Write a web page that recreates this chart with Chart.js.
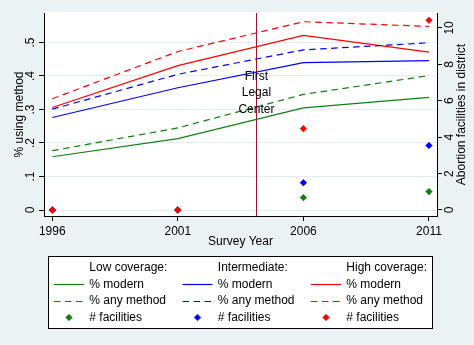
<!DOCTYPE html>
<html><head><meta charset="utf-8">
<script src="https://cdn.jsdelivr.net/npm/chart.js@4.4.1/dist/chart.umd.min.js"></script>
<style>html,body{margin:0;padding:0;background:#eaf2f3;}#wrap{position:relative;width:474px;height:345px;}</style>
</head><body><div id="wrap"><canvas id="c" width="474" height="345"></canvas></div>
<script>
// ---- data ----
const years = [1996, 2001, 2006, 2011];
const yearTicks = [1996, 2001, 2006, 2011];
const pctTicks = [0, 0.1, 0.2, 0.3, 0.4, 0.5];
const facilityTicks = [0, 2, 4, 6, 8, 10];
const groupNames = ['Low coverage:', 'Intermediate:', 'High coverage:'];
const itemNames = ['% modern', '% any method', '# facilities'];

const lowModern  = [0.159, 0.213, 0.305, 0.336];
const lowAny     = [0.177, 0.245, 0.345, 0.401];
const midModern  = [0.276, 0.365, 0.440, 0.446];
const midAny     = [0.301, 0.405, 0.478, 0.499];
const highModern = [0.306, 0.431, 0.521, 0.471];
const highAny    = [0.332, 0.473, 0.562, 0.548];
const lowFacilities  = [0, 0, 0.68, 1.01];
const midFacilities  = [0, 0, 1.50, 3.54];
const highFacilities = [0, 0, 4.47, 10.42];

const firstLegalCenterYear = 2004.13;
const annotationLines = ['First', 'Legal', 'Center'];

// ---- styling ----
const FONT = "'Liberation Sans', Arial, sans-serif";
Chart.defaults.font.family = FONT;
Chart.defaults.font.size = 12;
Chart.defaults.color = '#000';
const groupColors = ['#108010', '#0000ff', '#ff0000'];
const DASH = [6.5, 4.5];

const pts = arr => arr.map((v, i) => ({x: years[i], y: v}));
const modern = [lowModern, midModern, highModern];
const anyM = [lowAny, midAny, highAny];
const fac = [lowFacilities, midFacilities, highFacilities];

const datasets = [];
for (let g = 0; g < 3; g++) {
  datasets.push({label: groupNames[g] + ' ' + itemNames[0], group: g, item: 0, data: pts(modern[g]), yAxisID: 'y',
    borderColor: groupColors[g], borderWidth: 1.2, pointRadius: 0, fill: false, tension: 0, order: 20 + g});
  datasets.push({label: groupNames[g] + ' ' + itemNames[1], group: g, item: 1, data: pts(anyM[g]), yAxisID: 'y',
    borderColor: groupColors[g], borderWidth: 1.2, borderDash: DASH, pointRadius: 0, fill: false, tension: 0, order: 10 + g});
  datasets.push({label: groupNames[g] + ' ' + itemNames[2], group: g, item: 2, data: pts(fac[g]), yAxisID: 'y2',
    showLine: false, pointStyle: 'rectRot', pointRadius: 3.3, pointBorderWidth: 0.6,
    backgroundColor: groupColors[g], borderColor: groupColors[g], pointBackgroundColor: groupColors[g], pointBorderColor: groupColors[g], order: 2 - g});
}

const bgPlugin = {
  id: 'bg',
  beforeDraw(chart) {
    const {ctx, chartArea: a} = chart;
    ctx.save();
    ctx.fillStyle = '#eaf2f3';
    ctx.fillRect(0, 0, chart.width, chart.height);
    ctx.fillStyle = '#ffffff';
    ctx.fillRect(a.left, a.top - 1, a.right - a.left, a.bottom - a.top + 1);
    ctx.restore();
  },
  beforeDatasetsDraw(chart) {
    const {ctx, chartArea: a, scales} = chart;
    const x = Math.round(scales.x.getPixelForValue(firstLegalCenterYear)) + 0.5;
    ctx.save();
    ctx.strokeStyle = '#a01030';
    ctx.lineWidth = 1;
    ctx.beginPath(); ctx.moveTo(x, a.top); ctx.lineTo(x, a.bottom); ctx.stroke();
    ctx.restore();
  },
  afterDatasetsDraw(chart) {
    const {ctx, scales} = chart;
    const x = scales.x.getPixelForValue(firstLegalCenterYear);
    const yv = [0.398, 0.350, 0.300];
    ctx.save();
    ctx.font = '12px ' + FONT;
    ctx.fillStyle = '#000';
    ctx.textAlign = 'center';
    ctx.textBaseline = 'middle';
    annotationLines.forEach((t, i) => ctx.fillText(t, x, scales.y.getPixelForValue(yv[i])));
    ctx.restore();
  },
  afterDraw(chart) {
    const {ctx, scales} = chart;
    ctx.save();
    const a = chart.chartArea;
    ctx.font = '12px ' + FONT;
    ctx.fillStyle = '#000';
    ctx.translate(scales.y2.right - 12, (a.top + a.bottom) / 2);
    ctx.rotate(-Math.PI / 2);
    ctx.textAlign = 'center';
    ctx.textBaseline = 'middle';
    ctx.fillText('Abortion facilities in district', 0, 0);
    ctx.restore();

    // legend
    ctx.save();
    const bx = 48.5, by = 256.5, bw = 384, bh = 72;
    ctx.fillStyle = '#fff';
    ctx.fillRect(bx, by, bw, bh);
    ctx.strokeStyle = '#000';
    ctx.lineWidth = 1;
    ctx.strokeRect(bx, by, bw, bh);
    const colX = [54, 182.5, 311];
    const rowY = [267.7, 284.3, 300.8, 317.5];
    ctx.font = '12px ' + FONT;
    ctx.textBaseline = 'middle';
    ctx.textAlign = 'left';
    chart.data.datasets.forEach(ds => {
      const cx = colX[ds.group];
      const ry = rowY[ds.item + 1];
      ctx.fillStyle = '#000';
      if (ds.item === 0) ctx.fillText(groupNames[ds.group], cx + 35.3, rowY[0]);
      ctx.fillText(itemNames[ds.item], cx + 35.3, ry);
      if (ds.item < 2) {
        ctx.strokeStyle = ds.borderColor;
        ctx.lineWidth = 1.2;
        ctx.setLineDash(ds.borderDash || []);
        ctx.beginPath(); ctx.moveTo(cx, Math.round(ry) + 0.5); ctx.lineTo(cx + 30, Math.round(ry) + 0.5); ctx.stroke();
        ctx.setLineDash([]);
      } else {
        const r = 3.3, mx = cx + 15;
        ctx.fillStyle = ds.backgroundColor; ctx.strokeStyle = ds.borderColor;
        ctx.beginPath();
        ctx.moveTo(mx - r, ry); ctx.lineTo(mx, ry - r); ctx.lineTo(mx + r, ry); ctx.lineTo(mx, ry + r); ctx.closePath();
        ctx.fill(); ctx.lineWidth = 0.6; ctx.stroke();
      }
    });
    ctx.restore();
  }
};

new Chart(document.getElementById('c'), {
  type: 'line',
  data: {datasets},
  plugins: [bgPlugin],
  options: {
    responsive: false,
    animation: false,
    devicePixelRatio: 1,
    layout: {padding: {top: 13, bottom: 94, left: 0, right: 0}},
    plugins: {legend: {display: false}, tooltip: {enabled: false}},
    scales: {
      x: {
        type: 'linear', min: 1995.67, max: 2011.32,
        afterBuildTicks: s => { s.ticks = yearTicks.map(v => ({value: v})); },
        afterFit: s => { s.height = 35; },
        ticks: {callback: v => String(v), padding: 3, maxRotation: 0, autoSkip: false},
        grid: {drawOnChartArea: false, drawTicks: true, tickLength: 5, tickColor: '#000', color: '#000'},
        border: {display: true, color: '#000', width: 1},
        title: {display: true, text: 'Survey Year', padding: {top: 0, bottom: 2}, font: {size: 12}}
      },
      y: {
        type: 'linear', position: 'left', min: -0.0179, max: 0.588,
        afterBuildTicks: s => { s.ticks = pctTicks.map(v => ({value: v})); },
        afterFit: s => { s.width = 44; },
        ticks: {callback: v => v === 0 ? '0' : String(Math.round(v * 10) / 10).replace(/^0/, ''), minRotation: 90, maxRotation: 90, crossAlign: 'center', padding: 3},
        grid: {drawOnChartArea: true, color: '#e3ecee', lineWidth: 1, drawTicks: true, tickLength: 5, tickColor: '#000'},
        border: {display: true, color: '#000', width: 1},
        title: {display: true, text: '% using method', padding: {top: 12.3, bottom: 0}, font: {size: 12}}
      },
      y2: {
        type: 'linear', position: 'right', min: -0.33, max: 10.82,
        afterBuildTicks: s => { s.ticks = facilityTicks.map(v => ({value: v})); },
        afterFit: s => { s.width = 37; },
        ticks: {callback: v => String(v), minRotation: 90, maxRotation: 90, crossAlign: 'center', padding: 1.5},
        grid: {drawOnChartArea: false, drawTicks: true, tickLength: 5, tickColor: '#000'},
        border: {display: true, color: '#000', width: 1},
        title: {display: false}
      }
    }
  }
});
</script>
</body></html>
